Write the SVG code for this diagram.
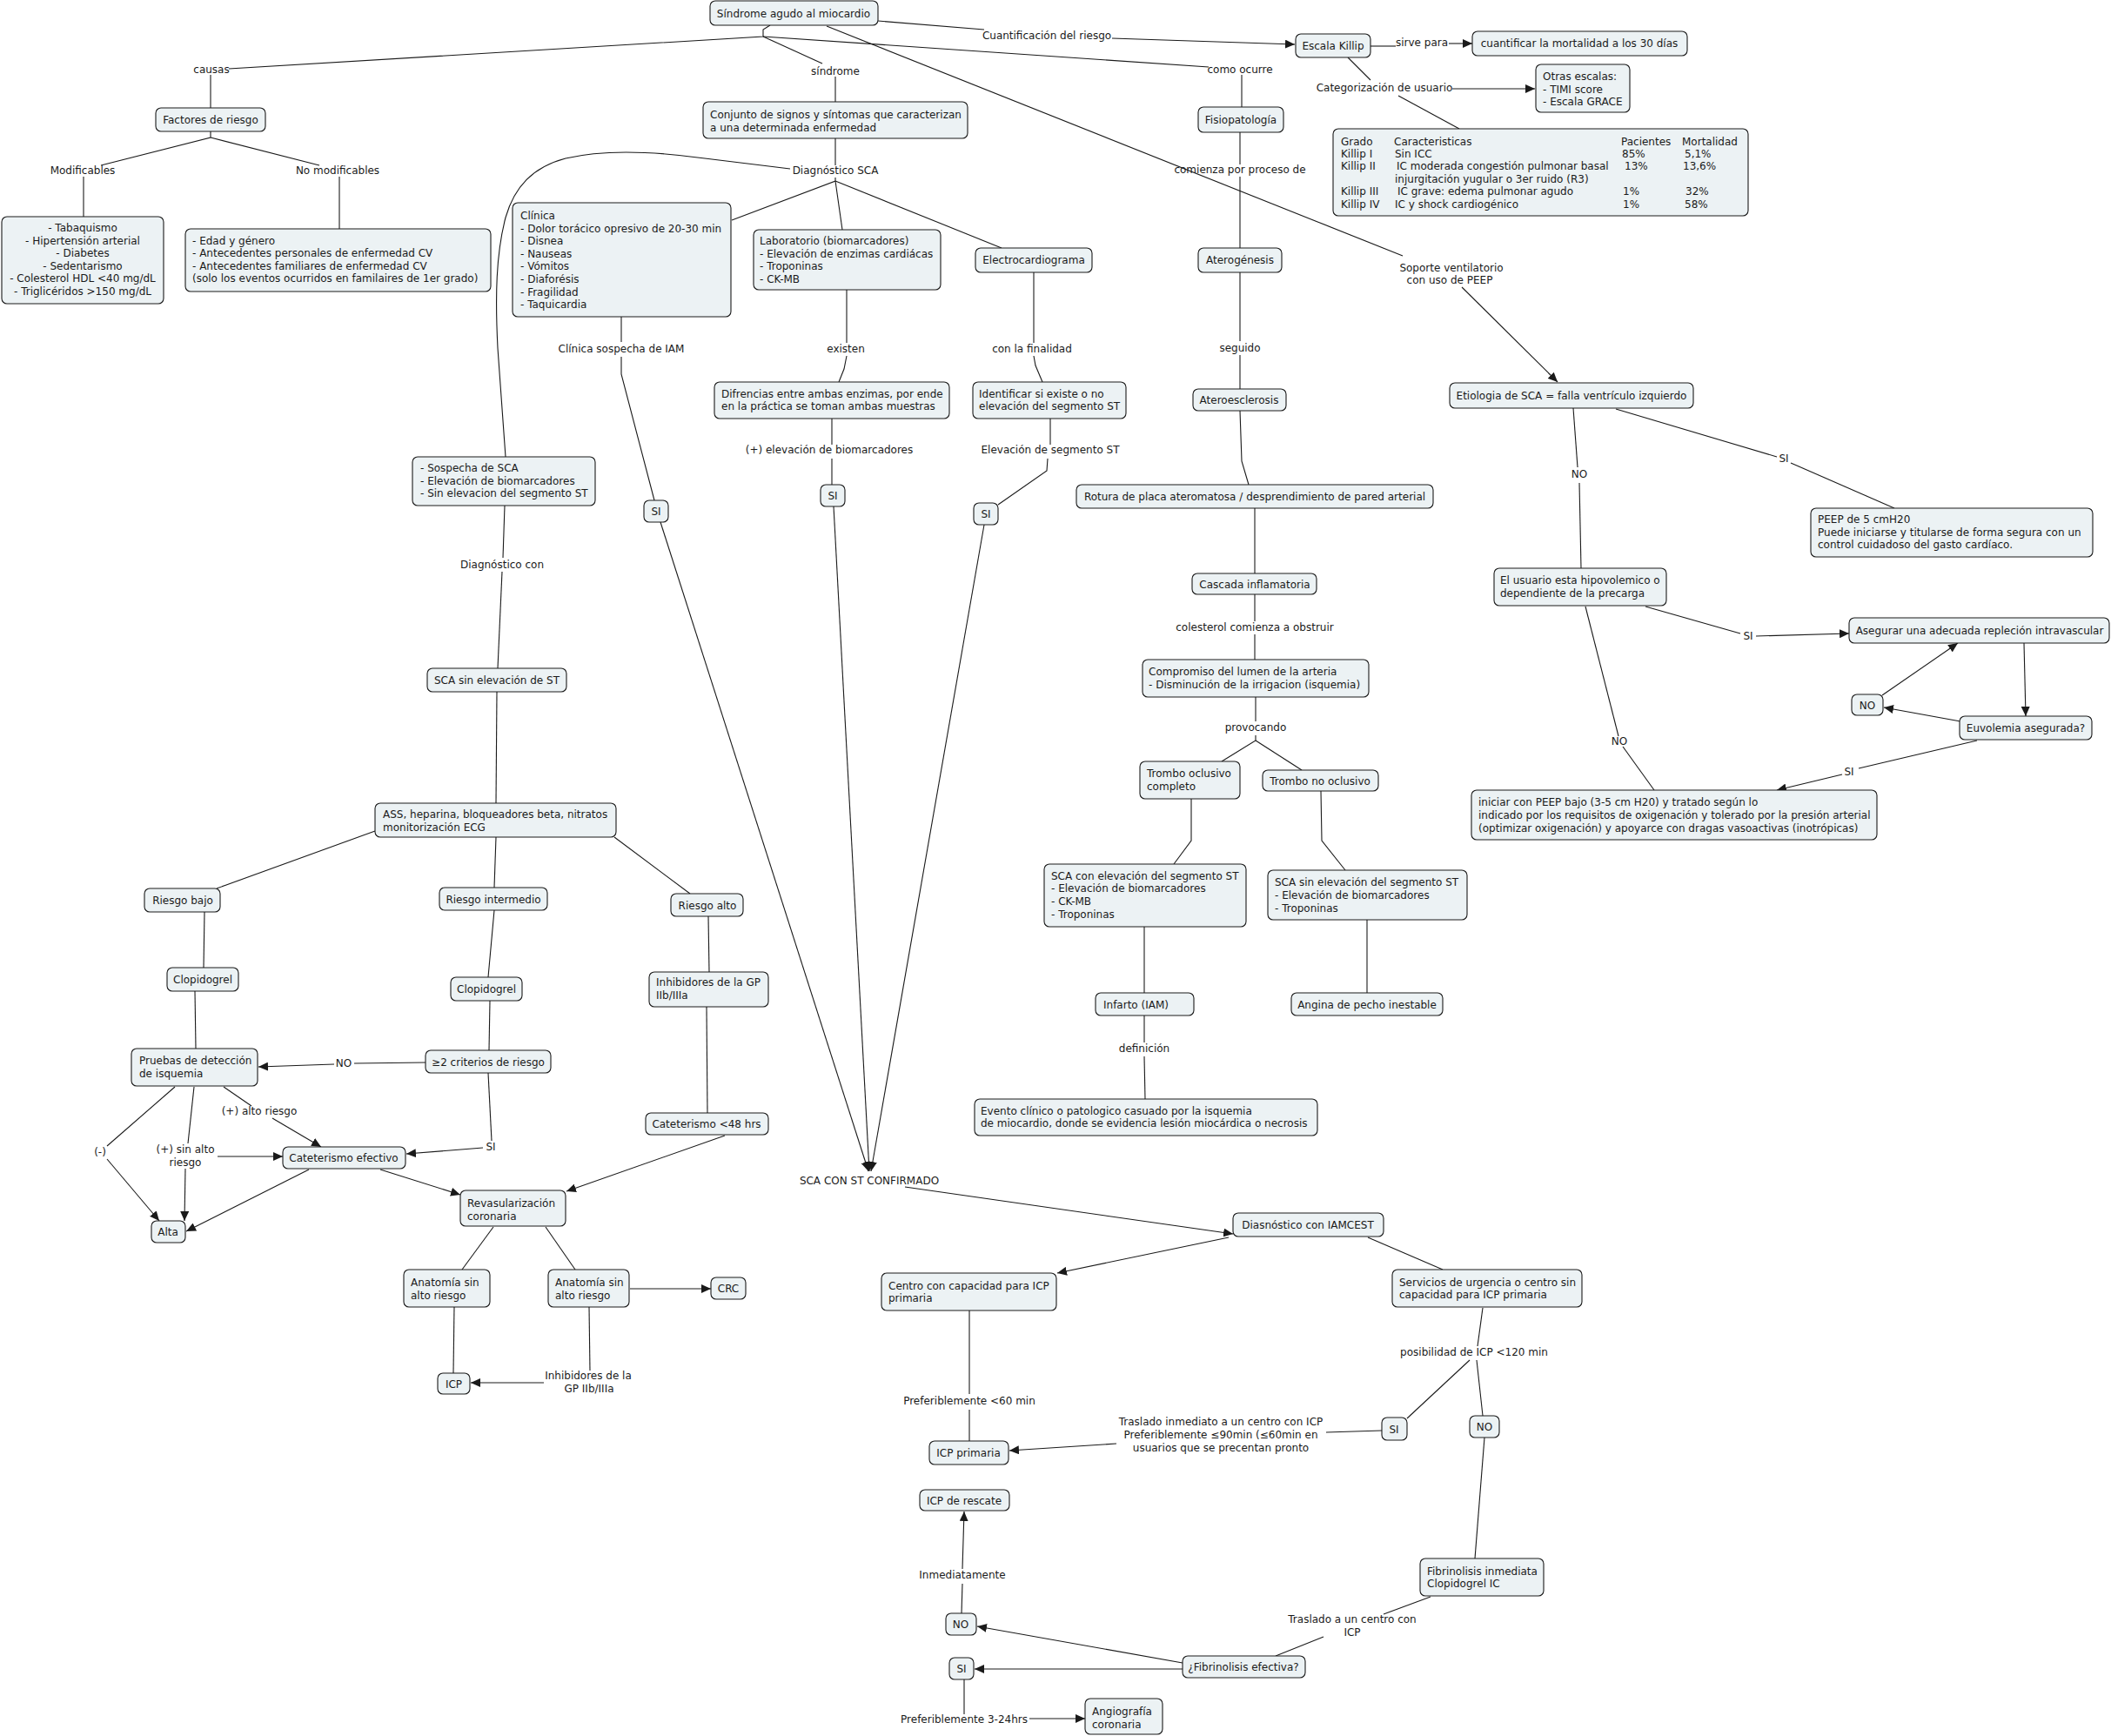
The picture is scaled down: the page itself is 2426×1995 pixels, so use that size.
<svg xmlns="http://www.w3.org/2000/svg" width="2426" height="1995" viewBox="0 0 2426 1995">
<defs>
<marker id="ah" markerUnits="userSpaceOnUse" markerWidth="12" markerHeight="10" refX="11" refY="5" orient="auto"><path d="M0,0 L11,5 L0,10 z" fill="#1a1a1a"/></marker>
<style>
text{font-family:"DejaVu Sans",Verdana,"Liberation Sans",sans-serif;font-size:12px;fill:#1a1a1a}
.m{text-anchor:middle}
rect{fill:#ecf2f4;stroke:#1a1a1a;stroke-width:1.1}
#connectors path{fill:none;stroke:#1a1a1a;stroke-width:1.1}
.a{marker-end:url(#ah)}
</style>
</defs>
<rect x="0" y="0" width="2426" height="1995" style="fill:#ffffff;stroke:none"/>
<g id="connectors">
<path d="M885,29 L877,34 L877,42 L263,79"/>
<path d="M877,42 L945,73"/>
<path d="M877,42 L1389,77"/>
<path d="M1009,24 L1131,34"/>
<path class="a" d="M1278,44 L1488,51"/>
<path d="M950,30 L1612,294"/>
<path class="a" d="M1680,330 L1790,439"/>
<path d="M242,86 L242,124"/>
<path d="M960,88 L960,117"/>
<path d="M1427,86 L1427,123"/>
<path d="M1575,53 L1604,53"/>
<path class="a" d="M1665,50 L1692,50"/>
<path d="M1549,66 L1575,92"/>
<path class="a" d="M1669,102 L1764,102"/>
<path d="M1607,110 L1677,148"/>
<path d="M242,151 L242,158 L116,190"/>
<path d="M242,158 L367,190"/>
<path d="M96,203 L96,249"/>
<path d="M390,203 L390,263"/>
<path d="M960,159 L960,190"/>
<path d="M960,204 L960,208 L841,253"/>
<path d="M960,208 L968,264"/>
<path d="M960,208 L1151,285"/>
<path d="M908,194 L810,182 C760,175 700,170 650,182 C612,192 591,215 581,250 C570,292 569,340 572,400 L581,525"/>
<path d="M1425,152 L1425,189"/>
<path d="M1425,203 L1425,285"/>
<path d="M714,364 L714,393"/>
<path d="M714,410 L714,430 L752,575"/>
<path class="a" d="M759,600 L998,1346"/>
<path d="M973,333 L973,394"/>
<path d="M973,409 L970,424 L964,439"/>
<path d="M1188,313 L1188,394"/>
<path d="M1188,409 L1190,420 L1198,439"/>
<path d="M1425,313 L1425,392"/>
<path d="M1425,408 L1425,447"/>
<path d="M956,481 L956,511"/>
<path d="M956,527 L956,557"/>
<path class="a" d="M958,582 L999,1346"/>
<path d="M1207,481 L1207,511"/>
<path d="M1204,527 L1203,541 L1147,580"/>
<path class="a" d="M1131,603 L1001,1346"/>
<path d="M1425,472 L1427,530 L1435,557"/>
<path d="M1808,469 L1813,537"/>
<path d="M1815,555 L1817,653"/>
<path d="M1857,470 L2042,525"/>
<path d="M2058,532 L2177,584"/>
<path d="M1442,584 L1442,659"/>
<path d="M580,581 L578,641"/>
<path d="M577,657 L572,768"/>
<path d="M1442,683 L1442,714"/>
<path d="M1442,729 L1442,758"/>
<path d="M1891,697 L2000,728"/>
<path class="a" d="M2018,731 L2125,728"/>
<path d="M1822,697 L1860,846"/>
<path d="M1865,858 L1901,908"/>
<path class="a" d="M2326,739 L2328,823"/>
<path class="a" d="M2253,829 L2165,813"/>
<path class="a" d="M2163,799 L2250,739"/>
<path d="M2272,851 L2136,883"/>
<path class="a" d="M2117,890 L2042,908"/>
<path d="M1443,801 L1443,829"/>
<path d="M1443,845 L1443,851 L1404,875"/>
<path d="M1443,851 L1496,885"/>
<path d="M1369,918 L1369,966 L1349,993"/>
<path d="M1518,909 L1519,966 L1546,1000"/>
<path d="M571,795 L570,923"/>
<path d="M431,955 L249,1021"/>
<path d="M570,962 L568,1020"/>
<path d="M706,962 L793,1027"/>
<path d="M1315,1065 L1315,1141"/>
<path d="M1571,1057 L1571,1141"/>
<path d="M235,1048 L234,1112"/>
<path d="M568,1046 L561,1123"/>
<path d="M814,1053 L815,1117"/>
<path d="M1315,1167 L1315,1198"/>
<path d="M1315,1214 L1316,1263"/>
<path d="M224,1139 L225,1205"/>
<path d="M563,1150 L562,1207"/>
<path d="M812,1157 L813,1279"/>
<path d="M489,1221 L407,1222"/>
<path class="a" d="M384,1223 L297,1226"/>
<path d="M561,1233 L565,1311"/>
<path class="a" d="M555,1319 L467,1326"/>
<path d="M257,1249 L289,1271"/>
<path class="a" d="M313,1285 L369,1318"/>
<path d="M201,1249 L123,1317"/>
<path class="a" d="M123,1332 L183,1403"/>
<path d="M223,1249 L216,1314"/>
<path class="a" d="M250,1329 L325,1329"/>
<path class="a" d="M213,1343 L212,1403"/>
<path class="a" d="M355,1344 L214,1415"/>
<path class="a" d="M437,1344 L529,1373"/>
<path class="a" d="M833,1305 L651,1369"/>
<path class="a" d="M1040,1364 L1417,1418"/>
<path class="a" d="M1412,1422 L1215,1463"/>
<path d="M1572,1422 L1658,1459"/>
<path d="M567,1410 L531,1459"/>
<path d="M627,1410 L661,1459"/>
<path class="a" d="M724,1481 L817,1481"/>
<path d="M522,1502 L521,1578"/>
<path d="M677,1502 L678,1575"/>
<path class="a" d="M625,1589 L541,1589"/>
<path d="M1114,1506 L1114,1602"/>
<path d="M1114,1620 L1114,1656"/>
<path d="M1704,1503 L1698,1547"/>
<path d="M1689,1563 L1617,1630"/>
<path d="M1697,1563 L1704,1627"/>
<path d="M1588,1644 L1524,1646"/>
<path class="a" d="M1283,1659 L1160,1667"/>
<path d="M1706,1652 L1695,1791"/>
<path d="M1644,1835 L1590,1855"/>
<path d="M1521,1881 L1466,1903"/>
<path class="a" d="M1359,1911 L1123,1869"/>
<path class="a" d="M1359,1918 L1120,1918"/>
<path d="M1105,1854 L1106,1820"/>
<path class="a" d="M1106,1803 L1108,1737"/>
<path d="M1108,1930 L1108,1970"/>
<path class="a" d="M1183,1975 L1247,1975"/>
</g>
<g id="n-sindrome"><rect x="816" y="1" width="193" height="28" rx="6"/><text class="m" x="912" y="20">Síndrome agudo al miocardio</text></g>
<g id="n-killip"><rect x="1489" y="39" width="86" height="27" rx="6"/><text class="m" x="1532" y="57">Escala Killip</text></g>
<g id="n-cuantificar"><rect x="1692" y="36" width="247" height="28" rx="6"/><text class="m" x="1815" y="54">cuantificar la mortalidad a los 30 días</text></g>
<g id="n-otras"><rect x="1765" y="74" width="108" height="55" rx="6"/><text x="1773"><tspan x="1773" y="92">Otras escalas:</tspan><tspan x="1773" y="107">- TIMI score</tspan><tspan x="1773" y="121">- Escala GRACE</tspan></text></g>
<g id="n-tabla-killip"><rect x="1532" y="148" width="477" height="100" rx="6"/>
<text><tspan x="1541" y="167">Grado</tspan><tspan x="1602" y="167">Caracteristicas</tspan><tspan x="1863" y="167">Pacientes</tspan><tspan x="1933" y="167">Mortalidad</tspan></text>
<text><tspan x="1541" y="181">Killip I</tspan><tspan x="1603" y="181">Sin ICC</tspan><tspan x="1864" y="181">85%</tspan><tspan x="1936" y="181">5,1%</tspan></text>
<text><tspan x="1541" y="195">Killip II</tspan><tspan x="1605" y="195">IC moderada congestión pulmonar basal</tspan><tspan x="1867" y="195">13%</tspan><tspan x="1934" y="195">13,6%</tspan></text>
<text><tspan x="1603" y="210">injurgitación yugular o 3er ruido (R3)</tspan></text>
<text><tspan x="1541" y="224">Killip III</tspan><tspan x="1606" y="224">IC grave: edema pulmonar agudo</tspan><tspan x="1865" y="224">1%</tspan><tspan x="1937" y="224">32%</tspan></text>
<text><tspan x="1541" y="239">Killip IV</tspan><tspan x="1603" y="239">IC y shock cardiogénico</tspan><tspan x="1865" y="239">1%</tspan><tspan x="1936" y="239">58%</tspan></text></g>
<g id="n-conjunto"><rect x="808" y="117" width="304" height="42" rx="6"/><text><tspan x="816" y="136">Conjunto de signos y síntomas que caracterizan</tspan><tspan x="816" y="151">a una determinada enfermedad</tspan></text></g>
<g id="n-fisiopatologia"><rect x="1377" y="123" width="98" height="29" rx="6"/><text class="m" x="1426" y="142">Fisiopatología</text></g>
<g id="n-factores"><rect x="179" y="124" width="126" height="27" rx="6"/><text class="m" x="242" y="142">Factores de riesgo</text></g>
<g id="n-modificables"><rect x="2" y="249" width="186" height="100" rx="6"/><text class="m"><tspan x="95" y="266">- Tabaquismo</tspan><tspan x="95" y="281">- Hipertensión arterial</tspan><tspan x="95" y="295">- Diabetes</tspan><tspan x="95" y="310">- Sedentarismo</tspan><tspan x="95" y="324">- Colesterol HDL &lt;40 mg/dL</tspan><tspan x="95" y="339">- Triglicéridos &gt;150 mg/dL</tspan></text></g>
<g id="n-nomodificables"><rect x="213" y="263" width="351" height="72" rx="6"/><text><tspan x="221" y="281">- Edad y género</tspan><tspan x="221" y="295">- Antecedentes personales de enfermedad CV</tspan><tspan x="221" y="310">- Antecedentes familiares de enfermedad CV</tspan><tspan x="221" y="324">(solo los eventos ocurridos en familaires de 1er grado)</tspan></text></g>
<g id="n-clinica"><rect x="589" y="233" width="251" height="131" rx="6"/><text><tspan x="598" y="252">Clínica</tspan><tspan x="598" y="267">- Dolor torácico opresivo de 20-30 min</tspan><tspan x="598" y="281">- Disnea</tspan><tspan x="598" y="296">- Nauseas</tspan><tspan x="598" y="310">- Vómitos</tspan><tspan x="598" y="325">- Diaforésis</tspan><tspan x="598" y="340">- Fragilidad</tspan><tspan x="598" y="354">- Taquicardia</tspan></text></g>
<g id="n-laboratorio"><rect x="866" y="264" width="215" height="69" rx="6"/><text><tspan x="873" y="281">Laboratorio (biomarcadores)</tspan><tspan x="873" y="296">- Elevación de enzimas cardiácas</tspan><tspan x="873" y="310">- Troponinas</tspan><tspan x="873" y="325">- CK-MB</tspan></text></g>
<g id="n-electro"><rect x="1121" y="285" width="134" height="28" rx="6"/><text class="m" x="1188" y="303">Electrocardiograma</text></g>
<g id="n-aterogenesis"><rect x="1377" y="285" width="96" height="28" rx="6"/><text class="m" x="1425" y="303">Aterogénesis</text></g>
<g id="n-difrencias"><rect x="821" y="439" width="270" height="42" rx="6"/><text><tspan x="829" y="457">Difrencias entre ambas enzimas, por ende</tspan><tspan x="829" y="471">en la práctica se toman ambas muestras</tspan></text></g>
<g id="n-identificar"><rect x="1118" y="439" width="176" height="42" rx="6"/><text><tspan x="1125" y="457">Identificar si existe o no</tspan><tspan x="1125" y="471">elevación del segmento ST</tspan></text></g>
<g id="n-ateroesclerosis"><rect x="1371" y="447" width="107" height="25" rx="6"/><text class="m" x="1424" y="464">Ateroesclerosis</text></g>
<g id="n-etiologia"><rect x="1666" y="440" width="280" height="29" rx="6"/><text class="m" x="1806" y="459">Etiologia de SCA = falla ventrículo izquierdo</text></g>
<g id="n-si-bio"><rect x="943" y="557" width="28" height="25" rx="6"/><text class="m" x="957" y="574">SI</text></g>
<g id="n-si-st"><rect x="1119" y="578" width="28" height="25" rx="6"/><text class="m" x="1133" y="595">SI</text></g>
<g id="n-si-clinica"><rect x="740" y="575" width="28" height="25" rx="6"/><text class="m" x="754" y="592">SI</text></g>
<g id="n-rotura"><rect x="1237" y="557" width="410" height="27" rx="6"/><text class="m" x="1442" y="575">Rotura de placa ateromatosa / desprendimiento de pared arterial</text></g>
<g id="n-sospecha"><rect x="474" y="525" width="210" height="56" rx="6"/><text><tspan x="483" y="542">- Sospecha de SCA</tspan><tspan x="483" y="557">- Elevación de biomarcadores</tspan><tspan x="483" y="571">- Sin elevacion del segmento ST</tspan></text></g>
<g id="n-peep"><rect x="2081" y="584" width="324" height="56" rx="6"/><text><tspan x="2089" y="601">PEEP de 5 cmH20</tspan><tspan x="2089" y="616">Puede iniciarse y titularse de forma segura con un</tspan><tspan x="2089" y="630">control cuidadoso del gasto cardíaco.</tspan></text></g>
<g id="n-usuario"><rect x="1717" y="653" width="198" height="43" rx="6"/><text><tspan x="1724" y="671">El usuario esta hipovolemico o</tspan><tspan x="1724" y="686">dependiente de la precarga</tspan></text></g>
<g id="n-cascada"><rect x="1370" y="659" width="143" height="24" rx="6"/><text class="m" x="1442" y="676">Cascada inflamatoria</text></g>
<g id="n-asegurar"><rect x="2125" y="710" width="299" height="29" rx="6"/><text class="m" x="2275" y="729">Asegurar una adecuada repleción intravascular</text></g>
<g id="n-sca-sin-st"><rect x="491" y="768" width="160" height="27" rx="6"/><text class="m" x="571" y="786">SCA sin elevación de ST</text></g>
<g id="n-compromiso"><rect x="1313" y="758" width="260" height="43" rx="6"/><text><tspan x="1320" y="776">Compromiso del lumen de la arteria</tspan><tspan x="1320" y="791">- Disminución de la irrigacion (isquemia)</tspan></text></g>
<g id="n-no-euvolemia"><rect x="2128" y="798" width="36" height="24" rx="6"/><text class="m" x="2146" y="815">NO</text></g>
<g id="n-euvolemia"><rect x="2252" y="823" width="152" height="27" rx="6"/><text class="m" x="2328" y="841">Euvolemia asegurada?</text></g>
<g id="n-trombo-oclusivo"><rect x="1310" y="875" width="115" height="43" rx="6"/><text><tspan x="1318" y="893">Trombo oclusivo</tspan><tspan x="1318" y="908">completo</tspan></text></g>
<g id="n-trombo-no"><rect x="1451" y="885" width="133" height="24" rx="6"/><text class="m" x="1517" y="902">Trombo no oclusivo</text></g>
<g id="n-iniciar"><rect x="1691" y="908" width="466" height="57" rx="6"/><text><tspan x="1699" y="926">iniciar con PEEP bajo (3-5 cm H20) y tratado según lo</tspan><tspan x="1699" y="941">indicado por los requisitos de oxigenación y tolerado por la presión arterial</tspan><tspan x="1699" y="956">(optimizar oxigenación) y apoyarce con dragas vasoactivas (inotrópicas)</tspan></text></g>
<g id="n-ass"><rect x="431" y="923" width="277" height="39" rx="6"/><text><tspan x="440" y="940">ASS, heparina, bloqueadores beta, nitratos</tspan><tspan x="440" y="955">monitorización ECG</tspan></text></g>
<g id="n-sca-con-elevacion"><rect x="1200" y="993" width="232" height="72" rx="6"/><text><tspan x="1208" y="1011">SCA con elevación del segmento ST</tspan><tspan x="1208" y="1025">- Elevación de biomarcadores</tspan><tspan x="1208" y="1040">- CK-MB</tspan><tspan x="1208" y="1055">- Troponinas</tspan></text></g>
<g id="n-sca-sin-elevacion"><rect x="1457" y="1000" width="229" height="57" rx="6"/><text><tspan x="1465" y="1018">SCA sin elevación del segmento ST</tspan><tspan x="1465" y="1033">- Elevación de biomarcadores</tspan><tspan x="1465" y="1048">- Troponinas</tspan></text></g>
<g id="n-riesgo-bajo"><rect x="166" y="1021" width="87" height="27" rx="6"/><text class="m" x="210" y="1039">Riesgo bajo</text></g>
<g id="n-riesgo-intermedio"><rect x="505" y="1020" width="124" height="26" rx="6"/><text class="m" x="567" y="1038">Riesgo intermedio</text></g>
<g id="n-riesgo-alto"><rect x="771" y="1027" width="83" height="26" rx="6"/><text class="m" x="813" y="1045">Riesgo alto</text></g>
<g id="n-clopidogrel-1"><rect x="192" y="1112" width="82" height="27" rx="6"/><text class="m" x="233" y="1130">Clopidogrel</text></g>
<g id="n-clopidogrel-2"><rect x="518" y="1123" width="82" height="27" rx="6"/><text class="m" x="559" y="1141">Clopidogrel</text></g>
<g id="n-inhibidores"><rect x="746" y="1117" width="137" height="40" rx="6"/><text><tspan x="754" y="1133">Inhibidores de la GP</tspan><tspan x="754" y="1148">IIb/IIIa</tspan></text></g>
<g id="n-infarto"><rect x="1259" y="1141" width="113" height="26" rx="6"/><text x="1268" y="1159">Infarto (IAM)</text></g>
<g id="n-angina"><rect x="1484" y="1141" width="174" height="26" rx="6"/><text class="m" x="1571" y="1159">Angina de pecho inestable</text></g>
<g id="n-pruebas"><rect x="151" y="1205" width="145" height="43" rx="6"/><text><tspan x="160" y="1223">Pruebas de detección</tspan><tspan x="160" y="1238">de isquemia</tspan></text></g>
<g id="n-criterios"><rect x="489" y="1207" width="144" height="26" rx="6"/><text class="m" x="561" y="1225">≥2 criterios de riesgo</text></g>
<g id="n-evento"><rect x="1120" y="1263" width="394" height="42" rx="6"/><text><tspan x="1127" y="1281">Evento clínico o patologico casuado por la isquemia</tspan><tspan x="1127" y="1295">de miocardio, donde se evidencia lesión miocárdica o necrosis</tspan></text></g>
<g id="n-cateterismo-48"><rect x="742" y="1279" width="141" height="25" rx="6"/><text class="m" x="812" y="1296">Cateterismo &lt;48 hrs</text></g>
<g id="n-cateterismo-efectivo"><rect x="325" y="1318" width="141" height="25" rx="6"/><text class="m" x="395" y="1335">Cateterismo efectivo</text></g>
<g id="n-revascularizacion"><rect x="529" y="1368" width="121" height="41" rx="6"/><text><tspan x="537" y="1387">Revasularización</tspan><tspan x="537" y="1402">coronaria</tspan></text></g>
<g id="n-alta"><rect x="174" y="1403" width="39" height="25" rx="6"/><text class="m" x="193" y="1420">Alta</text></g>
<g id="n-diasnostico"><rect x="1417" y="1394" width="173" height="27" rx="6"/><text class="m" x="1503" y="1412">Diasnóstico con IAMCEST</text></g>
<g id="n-servicios"><rect x="1600" y="1459" width="218" height="43" rx="6"/><text><tspan x="1608" y="1478">Servicios de urgencia o centro sin</tspan><tspan x="1608" y="1492">capacidad para ICP primaria</tspan></text></g>
<g id="n-centro"><rect x="1013" y="1463" width="201" height="43" rx="6"/><text><tspan x="1021" y="1482">Centro con capacidad para ICP</tspan><tspan x="1021" y="1496">primaria</tspan></text></g>
<g id="n-anatomia-1"><rect x="464" y="1459" width="99" height="43" rx="6"/><text><tspan x="472" y="1478">Anatomía sin</tspan><tspan x="472" y="1493">alto riesgo</tspan></text></g>
<g id="n-anatomia-2"><rect x="630" y="1459" width="93" height="43" rx="6"/><text><tspan x="638" y="1478">Anatomía sin</tspan><tspan x="638" y="1493">alto riesgo</tspan></text></g>
<g id="n-crc"><rect x="817" y="1468" width="40" height="25" rx="6"/><text class="m" x="837" y="1485">CRC</text></g>
<g id="n-icp"><rect x="503" y="1578" width="37" height="24" rx="6"/><text class="m" x="521.5" y="1595">ICP</text></g>
<g id="n-icp-primaria"><rect x="1068" y="1656" width="91" height="27" rx="6"/><text class="m" x="1113" y="1674">ICP primaria</text></g>
<g id="n-si-traslado"><rect x="1588" y="1629" width="29" height="26" rx="6"/><text class="m" x="1602" y="1647">SI</text></g>
<g id="n-no-fibrinolisis"><rect x="1689" y="1627" width="34" height="25" rx="6"/><text class="m" x="1706" y="1644">NO</text></g>
<g id="n-icp-rescate"><rect x="1057" y="1712" width="103" height="24" rx="6"/><text class="m" x="1108" y="1729">ICP de rescate</text></g>
<g id="n-fibrinolisis-inmediata"><rect x="1632" y="1791" width="142" height="43" rx="6"/><text><tspan x="1640" y="1810">Fibrinolisis inmediata</tspan><tspan x="1640" y="1824">Clopidogrel IC</tspan></text></g>
<g id="n-no-rescate"><rect x="1087" y="1854" width="35" height="25" rx="6"/><text class="m" x="1104" y="1871">NO</text></g>
<g id="n-fibrinolisis-efectiva"><rect x="1359" y="1903" width="141" height="25" rx="6"/><text class="m" x="1429" y="1920">¿Fibrinolisis efectiva?</text></g>
<g id="n-si-angio"><rect x="1091" y="1905" width="28" height="25" rx="6"/><text class="m" x="1105" y="1922">SI</text></g>
<g id="n-angiografia"><rect x="1247" y="1952" width="89" height="41" rx="6"/><text><tspan x="1255" y="1971">Angiografía</tspan><tspan x="1255" y="1986">coronaria</tspan></text></g>
<g id="labels">
<text class="m" x="1203" y="45">Cuantificación del riesgo</text>
<text class="m" x="243" y="84">causas</text>
<text class="m" x="960" y="86">síndrome</text>
<text class="m" x="1425" y="84">como ocurre</text>
<text class="m" x="1634" y="53">sirve para</text>
<text class="m" x="1591" y="105">Categorización de usuario</text>
<text class="m" x="95" y="200">Modificables</text>
<text class="m" x="388" y="200">No modificables</text>
<text class="m" x="960" y="200">Diagnóstico SCA</text>
<text class="m" x="1425" y="199">comienza por proceso de</text>
<text class="m"><tspan x="1668" y="312">Soporte ventilatorio</tspan><tspan x="1666" y="326">con uso de PEEP</tspan></text>
<text class="m" x="714" y="405">Clínica sospecha de IAM</text>
<text class="m" x="972" y="405">existen</text>
<text class="m" x="1186" y="405">con la finalidad</text>
<text class="m" x="1425" y="404">seguido</text>
<text class="m" x="953" y="521">(+) elevación de biomarcadores</text>
<text class="m" x="1207" y="521">Elevación de segmento ST</text>
<text class="m" x="1815" y="549">NO</text>
<text class="m" x="2050" y="531">SI</text>
<text class="m" x="577" y="653">Diagnóstico con</text>
<text class="m" x="1442" y="725">colesterol comienza a obstruir</text>
<text class="m" x="2009" y="735">SI</text>
<text class="m" x="1443" y="840">provocando</text>
<text class="m" x="1861" y="856">NO</text>
<text class="m" x="2125" y="891">SI</text>
<text class="m" x="1315" y="1209">definición</text>
<text class="m" x="395" y="1226">NO</text>
<text class="m" x="298" y="1281">(+) alto riesgo</text>
<text class="m" x="564" y="1322">SI</text>
<text class="m" x="115" y="1328">(-)</text>
<text class="m"><tspan x="213" y="1325">(+) sin alto</tspan><tspan x="213" y="1340">riesgo</tspan></text>
<text class="m" x="999" y="1361">SCA CON ST CONFIRMADO</text>
<text class="m" x="1694" y="1558">posibilidad de ICP &lt;120 min</text>
<text class="m" x="1114" y="1614">Preferiblemente &lt;60 min</text>
<text class="m"><tspan x="1403" y="1638">Traslado inmediato a un centro con ICP</tspan><tspan x="1403" y="1653">Preferiblemente ≤90min (≤60min en</tspan><tspan x="1403" y="1668">usuarios que se precentan pronto</tspan></text>
<text class="m"><tspan x="676" y="1585">Inhibidores de la</tspan><tspan x="677" y="1600">GP IIb/IIIa</tspan></text>
<text class="m" x="1106" y="1814">Inmediatamente</text>
<text class="m"><tspan x="1554" y="1865">Traslado a un centro con</tspan><tspan x="1554" y="1880">ICP</tspan></text>
<text class="m" x="1108" y="1980">Preferiblemente 3-24hrs</text>
</g>
</svg>
